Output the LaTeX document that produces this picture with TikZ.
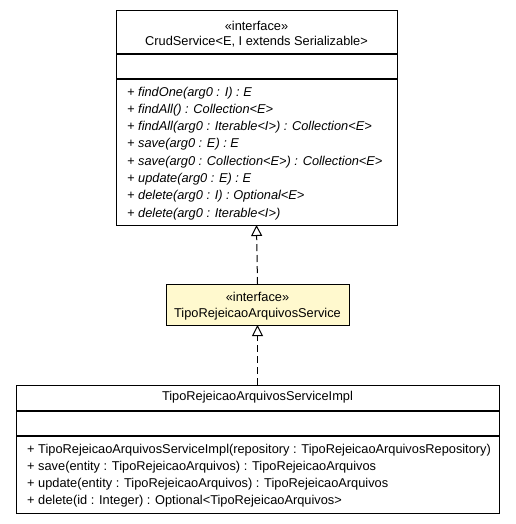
\documentclass[tikz,border=0pt]{standalone}
\usepackage{fontspec}
\setmainfont{Liberation Sans}
\usetikzlibrary{arrows.meta}
\definecolor{ifill}{HTML}{FFF9CE}
\tikzset{
  box/.style={draw=black, line width=1pt, fill=white, inner sep=0pt, outer sep=0pt},
  sep/.style={draw=black, line width=1.2pt},
  txt/.style={inner sep=0pt, font=\fontsize{12.8}{15}\selectfont, anchor=base},
  mtxt/.style={txt, anchor=base west},
  realize/.style={draw=black, line width=1pt, dash pattern=on 7pt off 4pt, -{Triangle[open, width=11pt, length=11pt, line width=1pt]}}
}
\begin{document}
\begin{tikzpicture}[x=1pt, y=-1pt]
\useasboundingbox (0,0) rectangle (515,524);
% top interface
\node[box, minimum width=281pt, minimum height=214pt] (crud) at (256.5,118) {};
\draw[sep] (116,54) -- (397,54);
\draw[sep] (116,79) -- (397,79);
\node[txt] (crudst) at (256.5,31) {«interface»};
\node[txt] (crudnm) at (256.5,46) {CrudService<E, I extends Serializable>};
\node[mtxt] (m1) at (127,96) {\itshape + findOne(arg0 : I) : E};
\node[mtxt] (m2) at (127,113.3) {\itshape + findAll() : Collection<E>};
\node[mtxt] (m3) at (127,130.6) {\itshape + findAll(arg0 : Iterable<I>) : Collection<E>};
\node[mtxt] (m4) at (127,147.9) {\itshape + save(arg0 : E) : E};
\node[mtxt] (m5) at (127,165.2) {\itshape + save(arg0 : Collection<E>) : Collection<E>};
\node[mtxt] (m6) at (127,182.5) {\itshape + update(arg0 : E) : E};
\node[mtxt] (m7) at (127,199.8) {\itshape + delete(arg0 : I) : Optional<E>};
\node[mtxt] (m8) at (127,217.1) {\itshape + delete(arg0 : Iterable<I>)};
% middle interface
\node[box, fill=ifill, minimum width=183pt, minimum height=41pt] (mid) at (257.5,304.5) {};
\node[txt] (midst) at (257.5,301.5) {«interface»};
\node[txt] (midnm) at (257.5,317) {TipoRejeicaoArquivosService};
% bottom class
\node[box, minimum width=483pt, minimum height=128pt] (impl) at (257.5,449) {};
\draw[sep] (16,411) -- (499,411);
\draw[sep] (16,436) -- (499,436);
\node[txt] (implnm) at (257.5,400) {TipoRejeicaoArquivosServiceImpl};
\node[mtxt] (b1) at (27,453) {+ TipoRejeicaoArquivosServiceImpl(repository : TipoRejeicaoArquivosRepository)};
\node[mtxt] (b2) at (27,470) {+ save(entity : TipoRejeicaoArquivos) : TipoRejeicaoArquivos};
\node[mtxt] (b3) at (27,487) {+ update(entity : TipoRejeicaoArquivos) : TipoRejeicaoArquivos};
\node[mtxt] (b4) at (27,504) {+ delete(id : Integer) : Optional<TipoRejeicaoArquivos>};
% connectors
\draw[realize] (mid.north) -- (crud.south);
\draw[realize] (impl.north) -- (mid.south);
\end{tikzpicture}
\end{document}
